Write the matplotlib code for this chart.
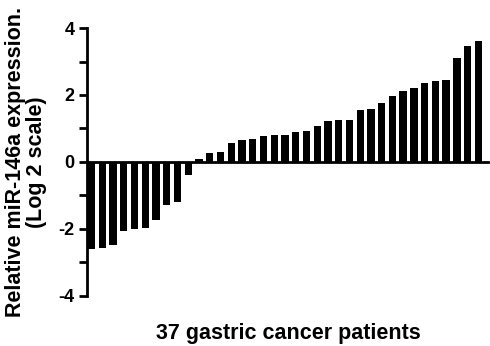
import matplotlib
matplotlib.use("Agg")
import matplotlib.pyplot as plt
import numpy as np

values = [-2.59, -2.56, -2.48, -2.05, -1.99, -1.96, -1.74, -1.30, -1.21, -0.38,
          0.08, 0.28, 0.31, 0.58, 0.66, 0.68, 0.78, 0.81, 0.80, 0.90, 0.91, 1.07,
          1.22, 1.24, 1.26, 1.54, 1.57, 1.77, 1.96, 2.13, 2.22, 2.35, 2.41, 2.46,
          3.09, 3.46, 3.62]
yticks = [-4, -2, 0, 2, 4]
ylabel = "Relative miR-146a expression.\n(Log 2 scale)"
xlabel = "37 gastric cancer patients"

plt.rcParams['font.family'] = ['Liberation Sans', 'DejaVu Sans']
plt.rcParams['font.weight'] = 'bold'
plt.rcParams['axes.unicode_minus'] = False

fig = plt.figure(figsize=(4.9, 3.46), dpi=100)
ax = fig.add_axes([0.178, 0.145, 0.818, 0.774])
x = np.arange(len(values))
ax.bar(x, values, width=0.68, color='black')
ax.set_xlim(-0.4, 36.9)
ax.set_ylim(-4, 4)
ax.spines['top'].set_visible(False)
ax.spines['right'].set_visible(False)
ax.spines['bottom'].set_position(('data', 0))
for s in ['left', 'bottom']:
    ax.spines[s].set_linewidth(2)
ax.set_xticks([])
ax.set_yticks(yticks)
ax.set_yticks([-3, -1, 1, 3], minor=True)
ax.tick_params(axis='y', which='both', direction='out', length=6, width=2, labelsize=13, pad=3)
for t in ax.get_yticklabels():
    t.set_fontweight('bold')
ax.set_ylabel(ylabel, fontsize=15.5, fontweight='bold', labelpad=8, linespacing=1.0)
fig.text(0.588, 0.02, xlabel, fontsize=15.5, fontweight='bold', ha='center', va='baseline')
fig.savefig('out.png', dpi=100)
